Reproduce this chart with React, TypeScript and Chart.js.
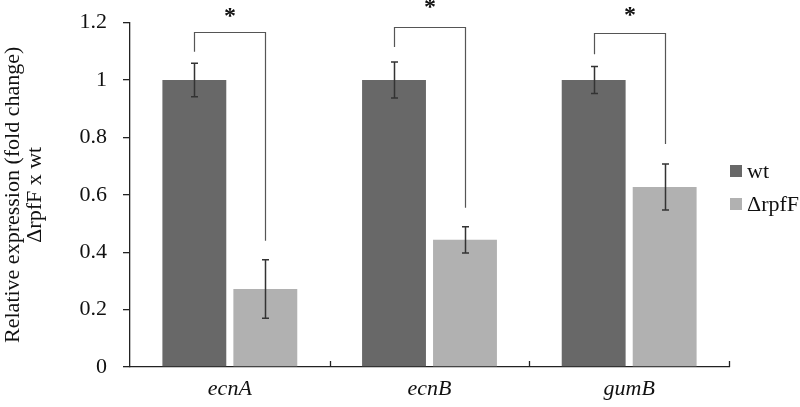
import React, { useEffect, useRef } from "react";
import { Chart, registerables } from "chart.js";

Chart.register(...registerables);

const categories = ["ecnA", "ecnB", "gumB"];
const seriesNames = ["wt", "\u0394rpfF"];
const wtValues = [1.0, 1.0, 1.0];
const wtErrors = [0.058, 0.063, 0.047];
const mutValues = [0.272, 0.443, 0.627];
const mutErrors = [0.102, 0.046, 0.08];
const yTicks = [0, 0.2, 0.4, 0.6, 0.8, 1, 1.2];
const bracketTop = [1.167, 1.185, 1.164];
const bracketLeftEnd = [1.098, 1.115, 1.09];
const bracketRightEnd = [0.44, 0.555, 0.777];
const starY = [1.23, 1.261, 1.233];
const starText = ["*", "*", "*"];

const FONT = "Liberation Serif";
const WT_COLOR = "#686868";
const MUT_COLOR = "#b1b1b1";

const overlay = {
  id: "overlay",
  afterDatasetsDraw(chart: any) {
    const ctx = chart.ctx;
    const y = chart.scales.y;
    const x = chart.scales.x;
    const errs = [wtErrors, mutErrors];
    const vals = [wtValues, mutValues];
    ctx.save();
    // error bars
    ctx.strokeStyle = "#333333";
    ctx.lineWidth = 1.5;
    for (let d = 0; d < 2; d++) {
      const meta = chart.getDatasetMeta(d);
      meta.data.forEach((bar: any, i: number) => {
        const cx = Math.round(bar.x) + 0.5;
        const yt = y.getPixelForValue(vals[d][i] + errs[d][i]);
        const yb = y.getPixelForValue(vals[d][i] - errs[d][i]);
        ctx.beginPath();
        ctx.moveTo(cx, yt);
        ctx.lineTo(cx, yb);
        ctx.moveTo(cx - 3.5, yt);
        ctx.lineTo(cx + 3.5, yt);
        ctx.moveTo(cx - 3.5, yb);
        ctx.lineTo(cx + 3.5, yb);
        ctx.stroke();
      });
    }
    // brackets + stars
    const m0 = chart.getDatasetMeta(0);
    const m1 = chart.getDatasetMeta(1);
    ctx.strokeStyle = "#555555";
    ctx.lineWidth = 1.2;
    categories.forEach((_c, i) => {
      const xl = Math.round(m0.data[i].x) + 0.5;
      const xr = Math.round(m1.data[i].x) + 0.5;
      const yt = Math.round(y.getPixelForValue(bracketTop[i])) + 0.5;
      ctx.beginPath();
      ctx.moveTo(xl, y.getPixelForValue(bracketLeftEnd[i]));
      ctx.lineTo(xl, yt);
      ctx.lineTo(xr, yt);
      ctx.lineTo(xr, y.getPixelForValue(bracketRightEnd[i]));
      ctx.stroke();
      ctx.fillStyle = "#111111";
      ctx.font = "bold 24px \"" + FONT + "\", serif";
      ctx.textAlign = "center";
      ctx.textBaseline = "middle";
      ctx.fillText(starText[i], (xl + xr) / 2, y.getPixelForValue(starY[i]) + 3);
    });
    // x-axis category boundary ticks (pointing up)
    ctx.strokeStyle = "#222222";
    ctx.lineWidth = 1.3;
    const step = x.getPixelForValue(1) - x.getPixelForValue(0);
    const base = y.getPixelForValue(0);
    for (let i = 0; i < categories.length; i++) {
      const bx = Math.round(x.getPixelForValue(i) + step / 2) + 0.5;
      ctx.beginPath();
      ctx.moveTo(bx, base);
      ctx.lineTo(bx, base - 6);
      ctx.stroke();
    }
    // legend
    const colors = [WT_COLOR, MUT_COLOR];
    const legendY = [171, 204];
    ctx.font = "22px \"" + FONT + "\", serif";
    ctx.textAlign = "left";
    ctx.textBaseline = "middle";
    seriesNames.forEach((name, k) => {
      ctx.fillStyle = colors[k];
      ctx.fillRect(730, legendY[k] - 6, 12, 12);
      ctx.fillStyle = "#111111";
      ctx.fillText(name, 747, legendY[k] + 1);
    });
    ctx.restore();
  },
};

export default function App() {
  const ref = useRef<HTMLCanvasElement | null>(null);
  useEffect(() => {
    document.body.style.margin = "0";
    const canvas = ref.current!;
    const chart = new Chart(canvas, {
      type: "bar",
      data: {
        labels: categories,
        datasets: [
          { label: seriesNames[0], data: wtValues, backgroundColor: WT_COLOR, categoryPercentage: 0.711, barPercentage: 0.9 },
          { label: seriesNames[1], data: mutValues, backgroundColor: MUT_COLOR, categoryPercentage: 0.711, barPercentage: 0.9 },
        ],
      },
      options: {
        responsive: false,
        animation: false,
        events: [],
        layout: { padding: { top: 22.6, right: 71, left: 0, bottom: 0 } },
        plugins: { legend: { display: false }, tooltip: { enabled: false } },
        scales: {
          x: {
            grid: { display: false, drawTicks: false },
            border: { display: true, color: "#222222", width: 1.3 },
            ticks: { color: "#111111", font: { family: FONT, size: 22, style: "italic" }, padding: 9 },
            afterFit: (s: any) => {
              s.height = 40;
              s.paddingLeft = 0;
              s.paddingRight = 0;
            },
          },
          y: {
            min: 0,
            max: 1.2,
            afterBuildTicks: (s: any) => { s.ticks = yTicks.map((v) => ({ value: v })); },
            ticks: {
              color: "#111111",
              font: { family: FONT, size: 22 },
              padding: 16,
              callback: (v: any) => String(Math.round(Number(v) * 10) / 10),
            },
            grid: { drawOnChartArea: false, drawTicks: true, tickLength: 7, color: "#222222", lineWidth: 1.3 },
            border: { display: true, color: "#222222", width: 1.3 },
            title: {
              display: true,
              text: ["Relative expression (fold change)", "\u0394rpfF x wt"],
              color: "#111111",
              font: { family: FONT, size: 22, lineHeight: 1.0 },
              padding: { top: 2, bottom: 0 },
            },
            afterFit: (s: any) => {
              s.width = 130;
              s.paddingTop = 0;
              s.paddingBottom = 0;
            },
          },
        },
      },
      plugins: [overlay],
    });
    return () => chart.destroy();
  }, []);
  return <canvas ref={ref} width={800} height={407} style={{ display: "block" }} />;
}
